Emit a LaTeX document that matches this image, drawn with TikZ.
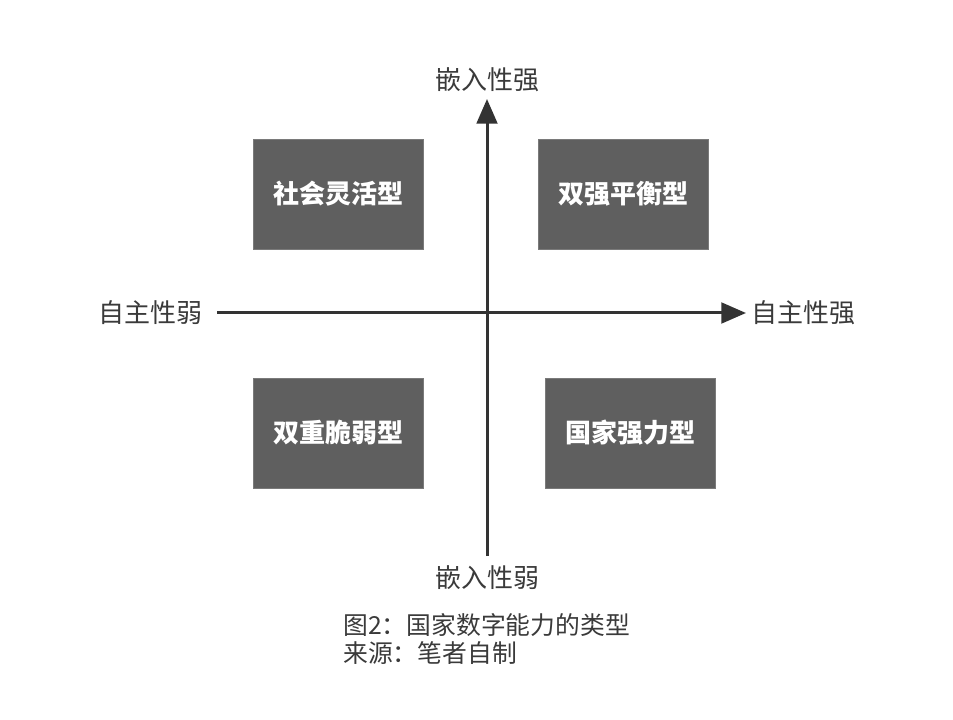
\documentclass[tikz,border=0pt]{standalone}
\usepackage{fontspec}
\setmainfont{Noto Sans CJK SC}
\newfontfamily\cjk{Noto Sans CJK SC}
\usetikzlibrary{arrows.meta}
\definecolor{boxgray}{HTML}{5F5F5F}
\definecolor{boxedge}{HTML}{7A7A7A}
\definecolor{axisgray}{HTML}{333333}
\definecolor{textgray}{HTML}{3A3A3A}
\tikzset{
  quad/.style={draw=boxedge, line width=0.6pt, fill=boxgray, minimum width=127.5pt, minimum height=82.5pt, inner sep=0pt, text=white, font=\cjk\bfseries\fontsize{19.5}{19.5}\selectfont},
  axislabel/.style={text=textgray, inner sep=0pt, font=\cjk\fontsize{19.5}{19.5}\selectfont},
  captext/.style={text=textgray, inner sep=0pt, anchor=west, font=\cjk\fontsize{18.6}{18.6}\selectfont},
  axis/.style={draw=axisgray, line width=2.25pt, -{Triangle[length=18.5pt,width=15.5pt]}}
}
\begin{document}
\begin{tikzpicture}[x=0.75pt,y=-0.75pt]
\useasboundingbox (0,0) rectangle (953,720);
% axes end points
\coordinate (vbot) at (487,556);
\coordinate (vtop) at (487,99);
\coordinate (hleft) at (217,313);
\coordinate (hright) at (746,313);
\draw[axis] (vbot) -- (vtop);
\draw[axis] (hleft) -- (hright);
% axis labels
\node[axislabel] (top) at (487,80) {嵌入性强};
\node[axislabel] (bottom) at (487,578) {嵌入性弱};
\node[axislabel] (left) at (150,313) {自主性弱};
\node[axislabel] (right) at (803,313) {自主性强};
% quadrant boxes
\node[quad] (q1) at (338,194) {社会灵活型};
\node[quad] (q2) at (623,194) {双强平衡型};
\node[quad] (q3) at (338,433) {双重脆弱型};
\node[quad] (q4) at (630,433) {国家强力型};
% caption
\node[captext] (cap1) at (343,625) {图2：国家数字能力的类型};
\node[captext] (cap2) at (343,653) {来源：笔者自制};
\end{tikzpicture}
\end{document}
